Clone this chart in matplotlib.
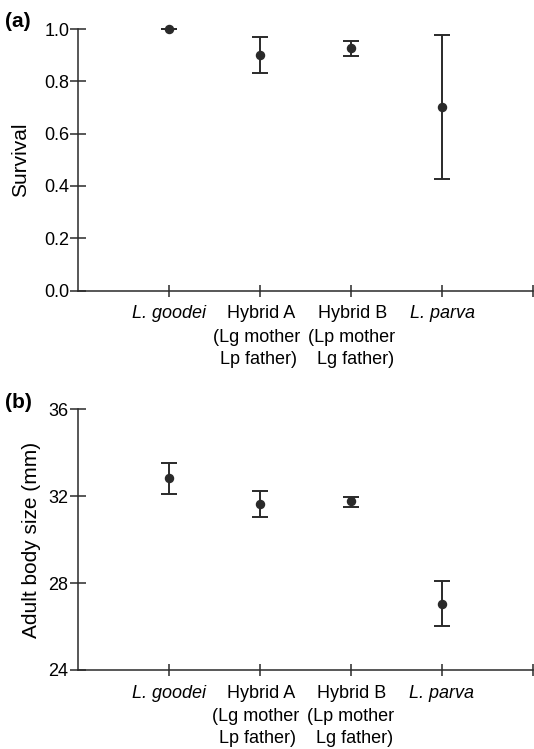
import matplotlib
matplotlib.use("Agg")
import matplotlib.pyplot as plt
from matplotlib.transforms import ScaledTranslation, blended_transform_factory

plt.rcParams['font.family'] = ['Liberation Sans', 'DejaVu Sans']

categories = ["L. goodei", "Hybrid A\n(Lg mother\nLp father)", "Hybrid B\n(Lp mother\nLg father)", "L. parva"]
italic = [True, False, False, True]

survival = [1.0, 0.902, 0.927, 0.701]
survival_low = [1.0, 0.832, 0.897, 0.426]
survival_high = [1.0, 0.970, 0.956, 0.977]

size = [32.84, 31.64, 31.76, 27.06]
size_low = [32.08, 31.04, 31.52, 26.02]
size_high = [33.54, 32.22, 31.98, 28.10]

fig = plt.figure(figsize=(5.34, 7.49), dpi=100)
W, H = 534, 749

def make_ax(left, top, right, bottom):
    return fig.add_axes([left / W, 1 - bottom / H, (right - left) / W, (bottom - top) / H])

ax1 = make_ax(78.3, 29, 533.3, 290.5)
ax2 = make_ax(77.5, 409.3, 533, 670)

lc = '#2a2a2a'
x = [1, 2, 3, 4]
# per-line horizontal nudges (pixels) for the category labels
line_dx = [[0], [1, -4, -2], [1, 0, 4], [0]]
line_dy = [28, 51, 73]

def style(ax, vals, lo, hi, ylim, yticks, yfmt):
    yerr = [[v - l for v, l in zip(vals, lo)], [h - v for v, h in zip(vals, hi)]]
    ax.errorbar(x, vals, yerr=yerr, fmt='o', color=lc, ecolor=lc, markersize=5.8,
                elinewidth=1.4, capsize=6, capthick=1.4, clip_on=False, zorder=3)
    ax.set_xlim(0, 5)
    ax.set_ylim(*ylim)
    ax.set_xticks([1, 2, 3, 4, 5])
    ax.set_xticklabels([])
    trans = blended_transform_factory(ax.transData, ax.transAxes)
    for xi, cat, it, dxs in zip(x, categories, italic, line_dx):
        for li, (line, dx) in enumerate(zip(cat.split("\n"), dxs)):
            off = ScaledTranslation(dx / 100, -line_dy[li] / 100, fig.dpi_scale_trans)
            ax.text(xi, 0, line, transform=trans + off, ha='center', va='baseline',
                    fontsize=13, style='italic' if it else 'normal')
    ax.set_yticks(yticks)
    ax.set_yticklabels([yfmt.format(t) for t in yticks], fontsize=13)
    for s in ['top', 'right']:
        ax.spines[s].set_visible(False)
    for s in ['left', 'bottom']:
        ax.spines[s].set_color(lc)
        ax.spines[s].set_linewidth(1.1)
    ax.tick_params(axis='x', direction='inout', length=8, width=1.1, color=lc, pad=2)
    ax.tick_params(axis='y', direction='inout', length=11, width=1.1, color=lc, pad=1)

style(ax1, survival, survival_low, survival_high, (0, 1.0), [0.0, 0.2, 0.4, 0.6, 0.8, 1.0], "{:.1f}")
style(ax2, size, size_low, size_high, (24, 36), [24, 28, 32, 36], "{:d}")

fig.text(21 / W, 1 - 159.5 / H, "Survival", rotation=90, fontsize=15, ha='center', va='center')
fig.text(31.5 / W, 1 - 540 / H, "Adult body size (mm)", rotation=90, fontsize=15, ha='center', va='center')

fig.text(5 / W, 1 - 21.5 / H, "(a)", fontsize=15, fontweight='bold', va='center', ha='left')
fig.text(5 / W, 1 - 403 / H, "(b)", fontsize=15, fontweight='bold', va='center', ha='left')

fig.savefig("out.png", dpi=100)
